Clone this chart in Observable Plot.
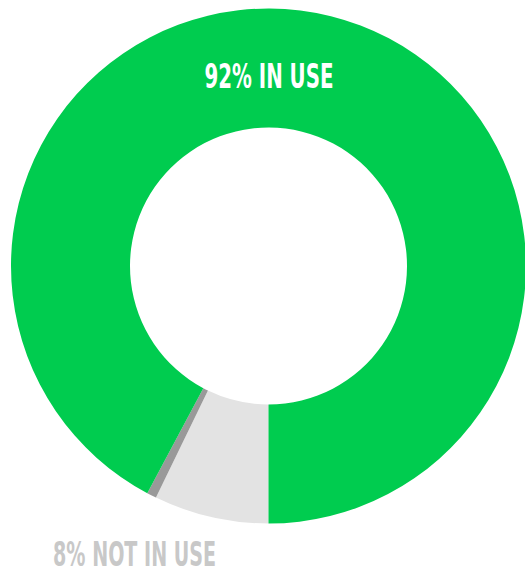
<!DOCTYPE html>
<html>
<head>
<meta charset="utf-8">
<script src="https://cdn.jsdelivr.net/npm/d3@7"></script>
<script src="https://cdn.jsdelivr.net/npm/@observablehq/plot@0.6"></script>
<style>
  html, body { margin: 0; padding: 0; background: #fff; }
  svg { display: block; }
</style>
</head>
<body>
<div id="chart"></div>
<script>
// Data (shares of total, percent), in drawing order clockwise from 6 o'clock
const categories = ["Not in use", "Other", "In use"];
const shares = [7.2, 0.6, 92.2];
const colors = ["#e3e3e3", "#999999", "#00cc4f"];
const labels = ["92% IN USE", "8% NOT IN USE"];

const slices = categories.map((c, i) => ({category: c, value: shares[i], color: colors[i]}));

const innerRatio = 138.5 / 257.5;

function donut(index, scales) {
  const cx = scales.x(0), cy = scales.y(0);
  const R = scales.x(1) - cx;
  const r = scales.x(innerRatio) - cx;
  const pie = d3.pie().value(d => d.value).sort(null)
    .startAngle(Math.PI).endAngle(3 * Math.PI);
  const arc = d3.arc().innerRadius(r).outerRadius(R);
  const g = d3.create("svg:g").attr("transform", `translate(${cx},${cy})`);
  g.selectAll("path").data(pie(slices)).join("path")
    .attr("d", arc)
    .attr("fill", d => d.data.color);
  return g.node();
}

const labelData = [
  {text: labels[0], x: 0, y: 0.695, fill: "#ffffff", len: 129},
  {text: labels[1], x: -0.522, y: -1.165, fill: "#c8c8c8", len: 163}
];

const chart = Plot.plot({
  width: 525,
  height: 573,
  margin: 0,
  x: {domain: [-1, 1], range: [11, 526], axis: null},
  y: {domain: [-1, 1], range: [523.5, 8.5], axis: null},
  marks: [
    donut,
    Plot.text(labelData, {
      x: "x", y: "y", text: "text", fill: "fill",
      textAnchor: "middle", lineAnchor: "bottom",
      fontFamily: "'Liberation Sans Narrow', 'DejaVu Sans Condensed', sans-serif",
      fontWeight: "bold", fontSize: 33
    })
  ]
});

d3.select(chart).selectAll("text").each(function() {
  const t = d3.select(this);
  const txt = t.text();
  const item = labelData.find(l => l.text === txt);
  if (item) t.attr("textLength", item.len).attr("lengthAdjust", "spacingAndGlyphs");
});

document.getElementById("chart").appendChild(chart);
</script>
</body>
</html>
